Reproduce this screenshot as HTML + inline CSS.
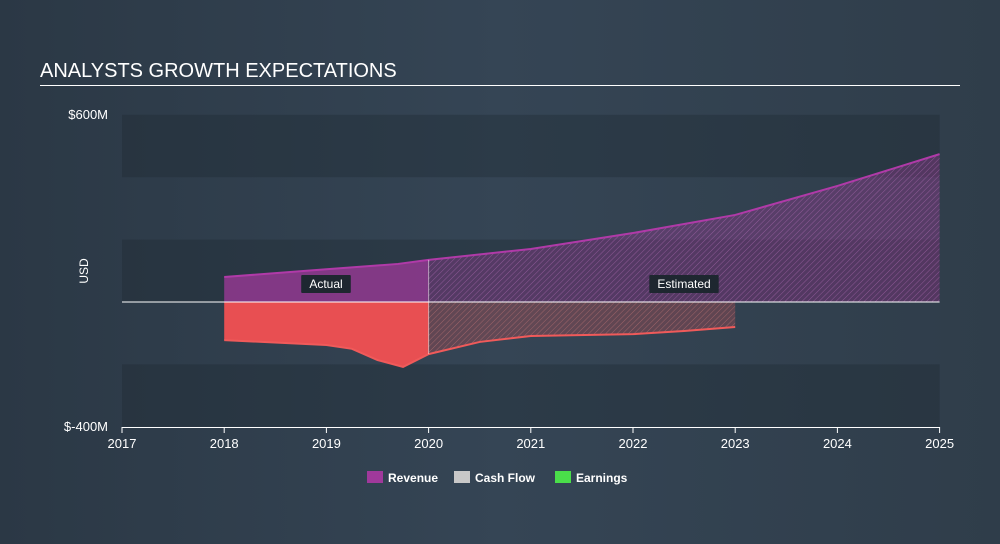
<!DOCTYPE html>
<html><head><meta charset="utf-8"><style>
html,body{margin:0;padding:0;}
body{width:1000px;height:544px;background:linear-gradient(90deg,#2b3845 0%,#354555 50%,#2f3d4a 100%);font-family:"Liberation Sans",sans-serif;overflow:hidden;position:relative;}
#title{position:absolute;left:40px;top:60px;color:#fff;font-size:20px;}
#rule{position:absolute;left:40px;top:85px;width:920px;height:1px;background:#fff;}
svg{position:absolute;left:0;top:0;}
</style></head><body>
<div id="title">ANALYSTS GROWTH EXPECTATIONS</div>
<div id="rule"></div>
<svg id="chart" width="1000" height="544"></svg>
<script>
const xTicks=[2017,2018,2019,2020,2021,2022,2023,2024,2025];
const revYears=[2018,2019,2019.7,2020,2021,2022,2023,2024,2025];
const revVals=[80,105,122,135,170,221,279,372,474];
const cfYears=[2018,2019,2019.25,2019.5,2019.75,2020,2020.5,2021,2022,2022.5,2023];
const cfVals=[-122,-138,-150,-186,-208,-167,-128,-109,-103,-93,-80];
const yTickLabels=["$600M","$-400M"];
const yTickVals=[600,-400];
const actualEnd=2020;
const NS="http://www.w3.org/2000/svg";
const svg=document.getElementById('chart');
const X=y=>122+(y-2017)*102.2;
const Y=v=>302-v*0.312;
function mk(t,a){const e=document.createElementNS(NS,t);for(const k in a)e.setAttribute(k,a[k]);svg.appendChild(e);return e;}
// defs
const defs=mk('defs',{});
defs.innerHTML='<pattern id="hp" width="4" height="4" patternUnits="userSpaceOnUse" patternTransform="rotate(45)"><rect width="4" height="4" fill="rgba(160,57,155,0.35)"/><line x1="0" y1="0" x2="0" y2="4" stroke="rgba(200,120,200,0.5)" stroke-width="1"/></pattern><pattern id="hc" width="4" height="4" patternUnits="userSpaceOnUse" patternTransform="rotate(45)"><rect width="4" height="4" fill="rgba(232,79,82,0.25)"/><line x1="0" y1="0" x2="0" y2="4" stroke="rgba(200,120,120,0.6)" stroke-width="1"/></pattern>';
// bands
for(let b=0;b<5;b++){
 const v0=600-b*200;
 if(b%2===0){const r=mk('rect',{x:X(2017),y:Y(v0),width:X(2025)-X(2017),height:Y(v0-200)-Y(v0),fill:'rgba(30,40,50,0.35)'});
 
 }
}
function interp(xs,vs,x){for(let i=0;i<xs.length-1;i++){if(x>=xs[i]&&x<=xs[i+1]){const t=(x-xs[i])/(xs[i+1]-xs[i]);return vs[i]+t*(vs[i+1]-vs[i]);}}return vs[vs.length-1];}
function area(xs,vs,from,to,fill,name){
 const pts=[[from,interp(xs,vs,from)]];
 xs.forEach((x,i)=>{if(x>from&&x<to)pts.push([x,vs[i]]);});
 pts.push([to,interp(xs,vs,to)]);
 let d='M'+X(from)+','+Y(0);
 pts.forEach(p=>d+=' L'+X(p[0])+','+Y(p[1]));
 d+=' L'+X(to)+','+Y(0)+' Z';
 const e=mk('path',{d:d,fill:fill});
 
 
}
function line(xs,vs,stroke,name){
 let d='';xs.forEach((x,i)=>d+=(i?' L':'M')+X(x)+','+Y(vs[i]));
 const e=mk('path',{d:d,fill:'none',stroke:stroke,'stroke-width':2});
 
 
}
area(revYears,revVals,revYears[0],actualEnd,'rgba(160,57,155,0.75)','revenue-actual-area');
area(revYears,revVals,actualEnd,revYears[revYears.length-1],'url(#hp)','revenue-estimated-area');
area(cfYears,cfVals,cfYears[0],actualEnd,'#e84f52','cashflow-actual-area');
area(cfYears,cfVals,actualEnd,cfYears[cfYears.length-1],'url(#hc)','cashflow-estimated-area');
line(revYears,revVals,'#b03aa8','revenue-line');
line(cfYears,cfVals,'#f05a5a','cashflow-line');
const zl=mk('line',{x1:X(2017),x2:X(2025),y1:Y(0),y2:Y(0),stroke:'#fff','stroke-width':1});


// divider at actual end
const dv=mk('line',{x1:X(actualEnd),x2:X(actualEnd),y1:Y(interp(revYears,revVals,actualEnd)),y2:Y(interp(cfYears,cfVals,actualEnd)),stroke:'rgba(255,255,255,0.5)','stroke-width':1});


// axes
const xa=mk('line',{x1:X(2017),x2:X(2025),y1:427.5,y2:427.5,stroke:'#fff','stroke-width':1});


xTicks.forEach(t=>{
 const tk=mk('line',{x1:X(t),x2:X(t),y1:427,y2:433,stroke:'#fff'});
 
 
 const tx=mk('text',{x:X(t),y:448,fill:'#fff','font-size':13,'text-anchor':'middle'});
 tx.textContent=t;
 
 
});
yTickVals.forEach((v,i)=>{
 const tx=mk('text',{x:108,y:Y(v)+4,fill:'#fff','font-size':13,'text-anchor':'end'});
 tx.textContent=yTickLabels[i];
 
 
});
const yt=mk('text',{x:88,y:271,fill:'#fff','font-size':12,'text-anchor':'middle',transform:'rotate(-90 88 271)'});
yt.textContent='USD';


function tag(cx,text,name){
 const w=text.length*6.6+10;
 const r=mk('rect',{x:cx-w/2,y:275,width:w,height:18,fill:'#1e2730',rx:1});
 
 
 const t=mk('text',{x:cx,y:288,fill:'#fff','font-size':12,'text-anchor':'middle'});
 t.textContent=text;
 
 
}
tag(326,'Actual','actual-label');
tag(684,'Estimated','estimated-label');
const leg=[['Revenue','#a0399b',367],['Cash Flow','#c8c8c8',454],['Earnings','#4ade4a',555]];
leg.forEach(l=>{
 const r=mk('rect',{x:l[2],y:471,width:16,height:12,fill:l[1]});
 
 
 const t=mk('text',{x:l[2]+21,y:482,fill:'#fff','font-size':12,'font-weight':'bold'});
 t.textContent=l[0];
 
 
});
</script>
</body></html>
